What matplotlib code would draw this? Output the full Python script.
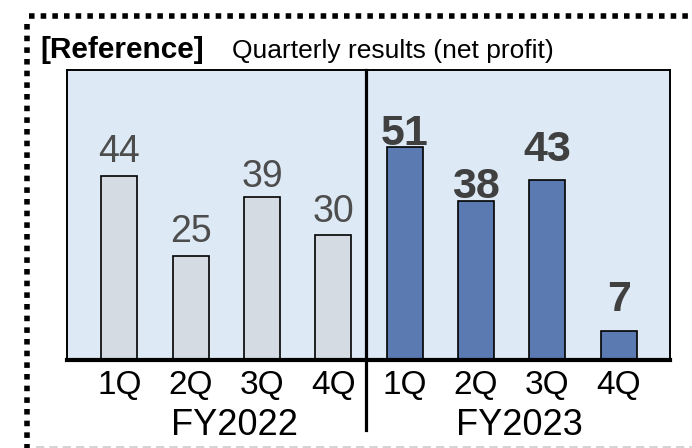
import matplotlib
matplotlib.use("Agg")
import matplotlib.pyplot as plt
from matplotlib.lines import Line2D
import matplotlib.transforms as mtransforms

plt.rcParams['font.family'] = ['Liberation Sans', 'DejaVu Sans']

# data
quarters = ['1Q', '2Q', '3Q', '4Q', '1Q', '2Q', '3Q', '4Q']
fy2022 = [44, 25, 39, 30]
fy2023 = [51, 38, 43, 7]
years = ['FY2022', 'FY2023']
header = '[Reference]'
title = 'Quarterly results (net profit)'

# label gaps above bars (points), tuned to the reference
gap22 = [10, 9.4, 7.5, 9.4]
gap23 = [1.4, 2.2, 13.7, 14.4]

fig = plt.figure(figsize=(6.92, 4.48), dpi=100)
ax = fig.add_axes([67 / 692, 88 / 448, 603 / 692, 290 / 448])
ax.set_facecolor('#dde9f5')

x22 = list(range(4))
x23 = [i + 4 for i in range(4)]
w = 0.505
ax.bar(x22, fy2022, width=w, color='#d5dbe2', edgecolor='black', linewidth=1.2, zorder=2)
ax.bar(x23, fy2023, width=w, color='#5a7ab1', edgecolor='black', linewidth=1.2, zorder=2)

for xi, v, g in zip(x22, fy2022, gap22):
    ax.annotate(str(v), (xi, v), xytext=(0, g), textcoords='offset points',
                ha='center', va='baseline', fontsize=27, color='#4d4d4d')
for xi, v, g in zip(x23, fy2023, gap23):
    ax.annotate(str(v), (xi, v), xytext=(0, g), textcoords='offset points',
                ha='center', va='baseline', fontsize=31, fontweight='bold', color='#404040')

ax.set_xlim(-0.736, 7.72)
ax.set_ylim(0, 69.4)
ax.set_yticks([])
ax.set_xticks(range(8))
ax.set_xticklabels(quarters, fontsize=24)
ax.tick_params(axis='x', length=0, pad=7.5)

for s in ['top', 'left', 'right']:
    ax.spines[s].set_linewidth(1.4)
ax.spines['bottom'].set_linewidth(3)

# divider between fiscal years
trans = mtransforms.blended_transform_factory(ax.transData, ax.transAxes)
ax.plot([3.46, 3.46], [1, -0.24], transform=trans, color='black', lw=2.3,
        clip_on=False, zorder=5)

for xc, yr in zip([1.61, 5.61], years):
    ax.text(xc, -0.2586, yr, transform=trans, ha='center', va='baseline', fontsize=26)

# header text
fig.text(40 / 692, 1 - 50 / 448, header, fontsize=21.5, fontweight='bold', va='center')
fig.text(232 / 692, 1 - 51 / 448, title, fontsize=19, va='center')

# dotted frame
fig.add_artist(Line2D([29 / 692, 1.0], [1 - 16 / 448] * 2, color='black', lw=4,
                      linestyle=(0, (1, 1.1)), transform=fig.transFigure))
fig.add_artist(Line2D([27 / 692] * 2, [1 - 24 / 448, 0.0], color='black', lw=4,
                      linestyle=(0, (1, 1.1)), transform=fig.transFigure))
fig.add_artist(Line2D([36 / 692, 1.0], [1.5 / 448] * 2, color='#cccccc', lw=1.2,
                      linestyle=(0, (5, 3)), transform=fig.transFigure))

fig.savefig('out.png', dpi=100)
